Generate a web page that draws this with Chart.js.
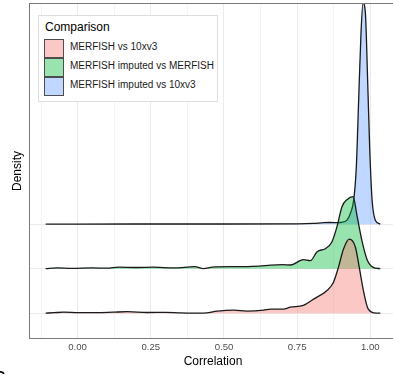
<!DOCTYPE html>
<html>
<head>
<meta charset="utf-8">
<script src="https://cdn.jsdelivr.net/npm/chart.js@4.4.1/dist/chart.umd.min.js"></script>
<style>
    html, body { margin: 0; padding: 0; background: #fff; }
    body { width: 393px; height: 375px; overflow: hidden; position: relative; font-family: "Liberation Sans", Arial, sans-serif; }
    #wrap { position: absolute; left: 0; top: 0; width: 404px; height: 375px; }
    #legend { position: absolute; left: 38px; top: 15px; width: 180px; height: 87px; background: #fff; border: 1px solid #dedede; box-sizing: border-box; }
    #legend .title { position: absolute; left: 6px; top: 4px; font-size: 12px; color: #000; }
    #legend .item { position: absolute; left: 5px; height: 19px; }
    #legend .key { position: absolute; left: 0; top: 0; width: 18px; height: 17px; border: 1px solid #4d4d4d; }
    #legend .label { position: absolute; left: 26px; top: 2px; font-size: 10px; color: #1a1a1a; white-space: nowrap; }
    #panelTag { position: absolute; left: -5px; top: 368px; font-size: 14px; font-weight: bold; color: #000; }
</style>
</head>
<body>
<div id="wrap"><canvas id="ridges" width="404" height="375"></canvas></div>
<div id="legend"></div>
<div id="panelTag">C</div>
<script>
// ridge rows, bottom to top
const groups = ['MERFISH vs 10xv3', 'MERFISH imputed vs MERFISH', 'MERFISH imputed vs 10xv3'];
const lineColors = ['rgb(248,118,109)', 'rgb(0,186,56)', 'rgb(97,156,255)'];

// scaled density per row (1 = distance between ridge baselines)
const corrA = [-0.109, -0.08, -0.047, 0.0, 0.067, 0.12, 0.17, 0.238, 0.30, 0.352, 0.43, 0.477, 0.533, 0.579, 0.636, 0.659, 0.703, 0.727, 0.771, 0.806, 0.853, 0.874, 0.891, 0.908, 0.928, 0.949, 0.962, 0.976, 0.993, 1.02, 1.034];
const densA = [0, 0.011, 0.022, 0.013, 0.011, 0.022, 0.034, 0.016, 0.018, 0.007, 0, 0.045, 0.067, 0.045, 0.067, 0.09, 0.09, 0.135, 0.173, 0.315, 0.517, 0.697, 1.034, 1.438, 1.663, 1.483, 1.034, 0.517, 0.09, 0, 0];

const corrB = [-0.109, -0.07, -0.02, 0.05, 0.10, 0.14, 0.2, 0.26, 0.33, 0.40, 0.43, 0.46, 0.52, 0.58, 0.62, 0.66, 0.70, 0.727, 0.771, 0.795, 0.818, 0.846, 0.869, 0.886, 0.903, 0.92, 0.941, 0.955, 0.972, 0.989, 1.01, 1.034];
const densB = [0, 0.018, 0.007, 0.018, 0.011, 0.034, 0.027, 0.034, 0.018, 0.045, 0, 0.034, 0.045, 0.045, 0.056, 0.079, 0.09, 0.083, 0.202, 0.18, 0.382, 0.449, 0.607, 0.944, 1.393, 1.551, 1.618, 1.169, 0.607, 0.202, 0.029, 0];

const corrC = [-0.109, 0.2, 0.5, 0.75, 0.806, 0.84, 0.863, 0.89, 0.905, 0.92, 0.932, 0.943, 0.952, 0.96, 0.968, 0.975, 0.983, 0.991, 0.998, 1.006, 1.017, 1.034];
const densC = [0, 0.004, 0.004, 0.007, 0.016, 0.034, 0.038, 0.034, 0.045, 0.09, 0.247, 0.539, 1.281, 2.787, 4.292, 4.966, 4.742, 3.169, 1.663, 0.539, 0.09, 0];

const xTicks = [0, 0.25, 0.5, 0.75, 1.0];
const xMinor = [-0.125, 0.125, 0.375, 0.625, 0.875];

function fillColor(c, a) {
    return c.replace('rgb(', 'rgba(').replace(')', ',' + a + ')');
}

function ridge(i, xs, ys) {
    return {
        label: groups[i],
        data: xs.map((x, k) => ({ x: x, y: i + ys[k] })),
        borderColor: '#1a1a1a',
        borderWidth: 1.3,
        backgroundColor: fillColor(lineColors[i], 0.4),
        fill: { value: i },
        pointRadius: 0,
        cubicInterpolationMode: 'monotone'
    };
}

// legend box
const legend = document.getElementById('legend');
legend.innerHTML = '<div class="title">Comparison</div>';
groups.forEach((g, i) => {
    const item = document.createElement('div');
    item.className = 'item';
    item.style.top = (23 + i * 19) + 'px';
    item.innerHTML = `<div class="key" style="background:${fillColor(lineColors[i], 0.4)}"></div><div class="label">${g}</div>`;
    legend.appendChild(item);
});

const panelBorder = {
    id: 'panelBorder',
    afterDatasetsDraw(chart) {
        const a = chart.chartArea;
        const ctx = chart.ctx;
        ctx.save();
        ctx.strokeStyle = '#7a7a7a';
        ctx.lineWidth = 1;
        ctx.strokeRect(a.left + 0.5, a.top + 0.5, a.right - a.left - 1, a.bottom - a.top - 1);
        ctx.restore();
    }
};

Chart.defaults.font.family = '"Liberation Sans", Arial, sans-serif';

new Chart(document.getElementById('ridges').getContext('2d'), {
    type: 'line',
    data: {
        datasets: [ridge(0, corrA, densA), ridge(1, corrB, densB), ridge(2, corrC, densC)]
    },
    options: {
        responsive: false,
        animation: false,
        events: [],
        layout: { padding: { top: 3, right: 7, left: 0, bottom: 0 } },
        plugins: { legend: { display: false }, tooltip: { enabled: false } },
        scales: {
            x: {
                type: 'linear',
                min: -0.166,
                max: 1.091,
                afterBuildTicks: s => { s.ticks = xMinor.concat(xTicks).sort((a, b) => a - b).map(v => ({ value: v })); },
                afterFit: s => { s.height = 36; },
                ticks: {
                    autoSkip: false,
                    maxRotation: 0,
                    padding: 3,
                    color: '#4d4d4d',
                    font: { size: 9.6 },
                    callback: v => xTicks.includes(v) ? v.toFixed(2) : ''
                },
                grid: {
                    drawTicks: false,
                    color: c => xTicks.includes(c.tick.value) ? '#ebebeb' : '#f4f4f4'
                },
                border: { display: false },
                title: { display: true, text: 'Correlation', color: '#000', font: { size: 12 }, padding: { top: 0, bottom: 6 } }
            },
            y: {
                type: 'linear',
                min: -0.58,
                max: 6.97,
                afterBuildTicks: s => { s.ticks = [0, 1, 2].map(v => ({ value: v })); },
                afterFit: s => { s.width = 29; },
                ticks: { display: false },
                grid: { drawTicks: false, color: '#ebebeb' },
                border: { display: false },
                title: { display: true, text: 'Density', color: '#000', font: { size: 12 }, padding: { top: 10, bottom: 0 } }
            }
        }
    },
    plugins: [panelBorder]
});
</script>
</body>
</html>
